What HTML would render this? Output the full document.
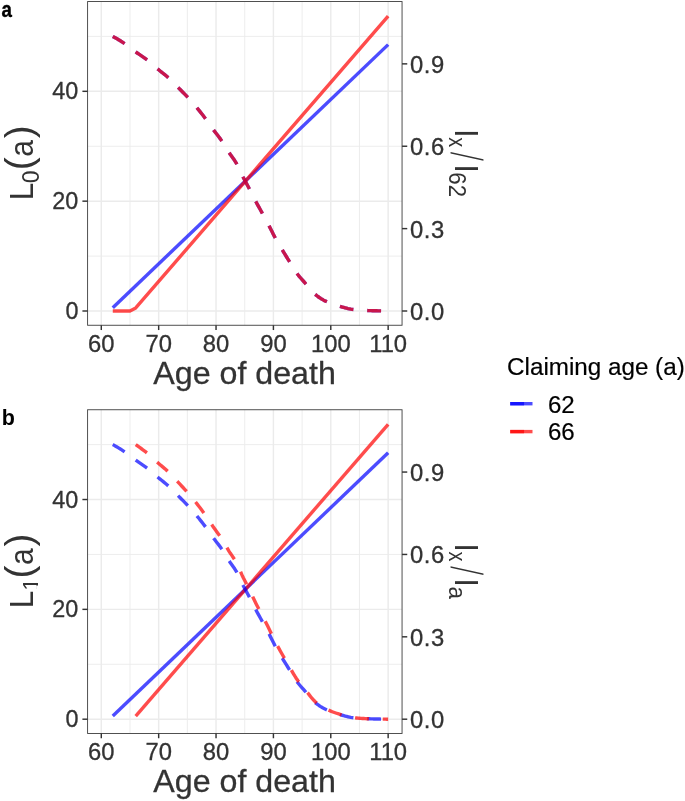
<!DOCTYPE html>
<html lang="en">
<head>
<meta charset="utf-8">
<title>Claiming age figure</title>
<style>
html,body{margin:0;padding:0;background:#fff;}
body{width:685px;height:801px;overflow:hidden;font-family:"Liberation Sans", sans-serif;}
svg{display:block;will-change:transform;}
svg text{stroke-linejoin:round;}
.t{stroke:#333333;stroke-width:0.3px;}
.k{stroke:#000;stroke-width:0.2px;}
</style>
</head>
<body>
<svg width="685" height="801" viewBox="0 0 685 801" font-family='"Liberation Sans", sans-serif'>
<rect width="685" height="801" fill="#fff"/>
<rect x="87.6" y="1.55" width="314.45" height="323.70" fill="#fff"/>
<line x1="129.98" x2="129.98" y1="1.55" y2="325.25" stroke="#ebebeb" stroke-width="0.9"/>
<line x1="187.35" x2="187.35" y1="1.55" y2="325.25" stroke="#ebebeb" stroke-width="0.9"/>
<line x1="244.72" x2="244.72" y1="1.55" y2="325.25" stroke="#ebebeb" stroke-width="0.9"/>
<line x1="302.09" x2="302.09" y1="1.55" y2="325.25" stroke="#ebebeb" stroke-width="0.9"/>
<line x1="359.46" x2="359.46" y1="1.55" y2="325.25" stroke="#ebebeb" stroke-width="0.9"/>
<line x1="87.6" x2="402.05" y1="256.08" y2="256.08" stroke="#ebebeb" stroke-width="0.9"/>
<line x1="87.6" x2="402.05" y1="146.24" y2="146.24" stroke="#ebebeb" stroke-width="0.9"/>
<line x1="87.6" x2="402.05" y1="36.40" y2="36.40" stroke="#ebebeb" stroke-width="0.9"/>
<line x1="101.30" x2="101.30" y1="1.55" y2="325.25" stroke="#ebebeb" stroke-width="1.45"/>
<line x1="158.67" x2="158.67" y1="1.55" y2="325.25" stroke="#ebebeb" stroke-width="1.45"/>
<line x1="216.04" x2="216.04" y1="1.55" y2="325.25" stroke="#ebebeb" stroke-width="1.45"/>
<line x1="273.41" x2="273.41" y1="1.55" y2="325.25" stroke="#ebebeb" stroke-width="1.45"/>
<line x1="330.78" x2="330.78" y1="1.55" y2="325.25" stroke="#ebebeb" stroke-width="1.45"/>
<line x1="388.15" x2="388.15" y1="1.55" y2="325.25" stroke="#ebebeb" stroke-width="1.45"/>
<line x1="87.6" x2="402.05" y1="311.00" y2="311.00" stroke="#ebebeb" stroke-width="1.45"/>
<line x1="87.6" x2="402.05" y1="201.16" y2="201.16" stroke="#ebebeb" stroke-width="1.45"/>
<line x1="87.6" x2="402.05" y1="91.32" y2="91.32" stroke="#ebebeb" stroke-width="1.45"/>
<path d="M112.77,307.70 L388.15,44.64" fill="none" stroke="#0000ff" stroke-opacity="0.7" stroke-width="3.4" stroke-linecap="butt" stroke-linejoin="round"/>
<path d="M112.77,311.00 L129.98,311.00 L135.72,307.98 L388.15,16.08" fill="none" stroke="#ff0000" stroke-opacity="0.7" stroke-width="3.4" stroke-linecap="butt" stroke-linejoin="round"/>
<path d="M112.77,36.40 L114.21,37.18 L115.64,37.98 L117.08,38.81 L118.51,39.67 L119.95,40.55 L121.38,41.46 L122.81,42.39 L124.25,43.35 L125.68,44.34 L127.12,45.38 L128.55,46.47 L129.98,47.59 L131.42,48.72 L132.85,49.84 L134.29,50.93 L135.72,51.98 L137.16,52.99 L138.59,53.97 L140.02,54.93 L141.46,55.89 L142.89,56.86 L144.33,57.85 L145.76,58.88 L147.20,59.96 L148.63,61.11 L150.06,62.31 L151.50,63.56 L152.93,64.82 L154.37,66.09 L155.80,67.36 L157.24,68.59 L158.67,69.79 L160.10,70.95 L161.54,72.09 L162.97,73.23 L164.41,74.38 L165.84,75.55 L167.28,76.78 L168.71,78.06 L170.14,79.41 L171.58,80.82 L173.01,82.26 L174.45,83.73 L175.88,85.21 L177.32,86.68 L178.75,88.13 L180.18,89.57 L181.62,91.01 L183.05,92.46 L184.49,93.92 L185.92,95.41 L187.35,96.93 L188.79,98.48 L190.22,100.06 L191.66,101.66 L193.09,103.29 L194.53,104.95 L195.96,106.63 L197.39,108.35 L198.83,110.09 L200.26,111.87 L201.70,113.69 L203.13,115.53 L204.57,117.41 L206.00,119.32 L207.43,121.31 L208.87,123.35 L210.30,125.41 L211.74,127.46 L213.17,129.45 L214.61,131.37 L216.04,133.23 L217.47,135.08 L218.91,136.95 L220.34,138.88 L221.78,140.92 L223.21,143.10 L224.65,145.40 L226.08,147.76 L227.51,150.11 L228.95,152.38 L230.38,154.50 L231.82,156.51 L233.25,158.50 L234.69,160.58 L236.12,162.86 L237.55,165.46 L238.99,168.44 L240.42,171.59 L241.86,174.69 L243.29,177.56 L244.72,180.25 L246.16,182.87 L247.59,185.49 L249.03,188.20 L250.46,191.00 L251.90,193.86 L253.33,196.71 L254.76,199.52 L256.20,202.23 L257.63,204.87 L259.07,207.45 L260.50,210.02 L261.94,212.61 L263.37,215.24 L264.80,217.86 L266.24,220.49 L267.67,223.16 L269.11,225.87 L270.54,228.69 L271.98,231.56 L273.41,234.41 L274.84,237.15 L276.28,239.75 L277.71,242.26 L279.15,244.70 L280.58,247.10 L282.02,249.49 L283.45,251.86 L284.88,254.20 L286.32,256.52 L287.75,258.82 L289.19,261.11 L290.62,263.44 L292.06,265.81 L293.49,268.17 L294.92,270.45 L296.36,272.58 L297.79,274.52 L299.23,276.32 L300.66,278.02 L302.09,279.66 L303.53,281.26 L304.96,282.88 L306.40,284.55 L307.83,286.29 L309.27,288.05 L310.70,289.79 L312.13,291.44 L313.57,292.96 L315.00,294.29 L316.44,295.43 L317.87,296.51 L319.31,297.51 L320.74,298.45 L322.17,299.33 L323.61,300.14 L325.04,300.89 L326.48,301.58 L327.91,302.23 L329.35,302.83 L330.78,303.40 L332.21,303.94 L333.65,304.44 L335.08,304.92 L336.52,305.38 L337.95,305.82 L339.39,306.23 L340.82,306.64 L342.25,307.05 L343.69,307.46 L345.12,307.85 L346.56,308.22 L347.99,308.57 L349.43,308.88 L350.86,309.16 L352.29,309.38 L353.73,309.55 L355.16,309.71 L356.60,309.85 L358.03,309.98 L359.46,310.10 L360.90,310.21 L362.33,310.30 L363.77,310.39 L365.20,310.46 L366.64,310.52 L368.07,310.58 L369.50,310.62 L370.94,310.67 L372.37,310.71 L373.81,310.75 L375.24,310.78 L376.68,310.81 L378.11,310.84 L379.54,310.87 L380.98,310.90 L382.41,310.92 L383.85,310.94 L385.28,310.96 L386.72,310.98 L388.15,311.00" fill="none" stroke="#0000ff" stroke-opacity="0.7" stroke-width="3.4" stroke-dasharray="13.86 13.86" stroke-linejoin="round"/>
<path d="M112.77,36.40 L114.21,37.18 L115.64,37.98 L117.08,38.81 L118.51,39.67 L119.95,40.55 L121.38,41.46 L122.81,42.39 L124.25,43.35 L125.68,44.34 L127.12,45.38 L128.55,46.47 L129.98,47.59 L131.42,48.72 L132.85,49.84 L134.29,50.93 L135.72,51.98 L137.16,52.99 L138.59,53.97 L140.02,54.93 L141.46,55.89 L142.89,56.86 L144.33,57.85 L145.76,58.88 L147.20,59.96 L148.63,61.11 L150.06,62.31 L151.50,63.56 L152.93,64.82 L154.37,66.09 L155.80,67.36 L157.24,68.59 L158.67,69.79 L160.10,70.95 L161.54,72.09 L162.97,73.23 L164.41,74.38 L165.84,75.55 L167.28,76.78 L168.71,78.06 L170.14,79.41 L171.58,80.82 L173.01,82.26 L174.45,83.73 L175.88,85.21 L177.32,86.68 L178.75,88.13 L180.18,89.57 L181.62,91.01 L183.05,92.46 L184.49,93.92 L185.92,95.41 L187.35,96.93 L188.79,98.48 L190.22,100.06 L191.66,101.66 L193.09,103.29 L194.53,104.95 L195.96,106.63 L197.39,108.35 L198.83,110.09 L200.26,111.87 L201.70,113.69 L203.13,115.53 L204.57,117.41 L206.00,119.32 L207.43,121.31 L208.87,123.35 L210.30,125.41 L211.74,127.46 L213.17,129.45 L214.61,131.37 L216.04,133.23 L217.47,135.08 L218.91,136.95 L220.34,138.88 L221.78,140.92 L223.21,143.10 L224.65,145.40 L226.08,147.76 L227.51,150.11 L228.95,152.38 L230.38,154.50 L231.82,156.51 L233.25,158.50 L234.69,160.58 L236.12,162.86 L237.55,165.46 L238.99,168.44 L240.42,171.59 L241.86,174.69 L243.29,177.56 L244.72,180.25 L246.16,182.87 L247.59,185.49 L249.03,188.20 L250.46,191.00 L251.90,193.86 L253.33,196.71 L254.76,199.52 L256.20,202.23 L257.63,204.87 L259.07,207.45 L260.50,210.02 L261.94,212.61 L263.37,215.24 L264.80,217.86 L266.24,220.49 L267.67,223.16 L269.11,225.87 L270.54,228.69 L271.98,231.56 L273.41,234.41 L274.84,237.15 L276.28,239.75 L277.71,242.26 L279.15,244.70 L280.58,247.10 L282.02,249.49 L283.45,251.86 L284.88,254.20 L286.32,256.52 L287.75,258.82 L289.19,261.11 L290.62,263.44 L292.06,265.81 L293.49,268.17 L294.92,270.45 L296.36,272.58 L297.79,274.52 L299.23,276.32 L300.66,278.02 L302.09,279.66 L303.53,281.26 L304.96,282.88 L306.40,284.55 L307.83,286.29 L309.27,288.05 L310.70,289.79 L312.13,291.44 L313.57,292.96 L315.00,294.29 L316.44,295.43 L317.87,296.51 L319.31,297.51 L320.74,298.45 L322.17,299.33 L323.61,300.14 L325.04,300.89 L326.48,301.58 L327.91,302.23 L329.35,302.83 L330.78,303.40 L332.21,303.94 L333.65,304.44 L335.08,304.92 L336.52,305.38 L337.95,305.82 L339.39,306.23 L340.82,306.64 L342.25,307.05 L343.69,307.46 L345.12,307.85 L346.56,308.22 L347.99,308.57 L349.43,308.88 L350.86,309.16 L352.29,309.38 L353.73,309.55 L355.16,309.71 L356.60,309.85 L358.03,309.98 L359.46,310.10 L360.90,310.21 L362.33,310.30 L363.77,310.39 L365.20,310.46 L366.64,310.52 L368.07,310.58 L369.50,310.62 L370.94,310.67 L372.37,310.71 L373.81,310.75 L375.24,310.78 L376.68,310.81 L378.11,310.84 L379.54,310.87 L380.98,310.90 L382.41,310.92 L383.85,310.94 L385.28,310.96 L386.72,310.98 L388.15,311.00" fill="none" stroke="#ff0000" stroke-opacity="0.7" stroke-width="3.4" stroke-dasharray="13.86 13.86" stroke-linejoin="round"/>
<rect x="87.6" y="1.55" width="314.45" height="323.70" fill="none" stroke="#3d3d3d" stroke-width="0.9"/>
<line x1="82.40" x2="87.6" y1="311.00" y2="311.00" stroke="#333333" stroke-width="1.45"/>
<text x="78.4" y="319.00" font-size="23.4" fill="#333333" class="t" text-anchor="end">0</text>
<line x1="82.40" x2="87.6" y1="201.16" y2="201.16" stroke="#333333" stroke-width="1.45"/>
<text x="78.4" y="209.16" font-size="23.4" fill="#333333" class="t" text-anchor="end">20</text>
<line x1="82.40" x2="87.6" y1="91.32" y2="91.32" stroke="#333333" stroke-width="1.45"/>
<text x="78.4" y="99.32" font-size="23.4" fill="#333333" class="t" text-anchor="end">40</text>
<line x1="402.05" x2="407.25" y1="311.00" y2="311.00" stroke="#333333" stroke-width="1.45"/>
<text x="410.0" y="319.90" font-size="23.8" letter-spacing="0.55" fill="#333333" class="t">0.0</text>
<line x1="402.05" x2="407.25" y1="228.62" y2="228.62" stroke="#333333" stroke-width="1.45"/>
<text x="410.0" y="237.52" font-size="23.8" letter-spacing="0.55" fill="#333333" class="t">0.3</text>
<line x1="402.05" x2="407.25" y1="146.24" y2="146.24" stroke="#333333" stroke-width="1.45"/>
<text x="410.0" y="155.14" font-size="23.8" letter-spacing="0.55" fill="#333333" class="t">0.6</text>
<line x1="402.05" x2="407.25" y1="63.86" y2="63.86" stroke="#333333" stroke-width="1.45"/>
<text x="410.0" y="72.76" font-size="23.8" letter-spacing="0.55" fill="#333333" class="t">0.9</text>
<line x1="101.30" x2="101.30" y1="325.25" y2="330.05" stroke="#333333" stroke-width="1.45"/>
<text x="101.30" y="351.95" font-size="23.8" fill="#333333" class="t" text-anchor="middle">60</text>
<line x1="158.67" x2="158.67" y1="325.25" y2="330.05" stroke="#333333" stroke-width="1.45"/>
<text x="158.67" y="351.95" font-size="23.8" fill="#333333" class="t" text-anchor="middle">70</text>
<line x1="216.04" x2="216.04" y1="325.25" y2="330.05" stroke="#333333" stroke-width="1.45"/>
<text x="216.04" y="351.95" font-size="23.8" fill="#333333" class="t" text-anchor="middle">80</text>
<line x1="273.41" x2="273.41" y1="325.25" y2="330.05" stroke="#333333" stroke-width="1.45"/>
<text x="273.41" y="351.95" font-size="23.8" fill="#333333" class="t" text-anchor="middle">90</text>
<line x1="330.78" x2="330.78" y1="325.25" y2="330.05" stroke="#333333" stroke-width="1.45"/>
<text x="330.78" y="351.95" font-size="23.8" fill="#333333" class="t" text-anchor="middle">100</text>
<line x1="388.15" x2="388.15" y1="325.25" y2="330.05" stroke="#333333" stroke-width="1.45"/>
<text x="388.15" y="351.95" font-size="23.8" fill="#333333" class="t" text-anchor="middle">110</text>
<text x="244.6" y="384.00" font-size="32.2" fill="#333333" class="t" text-anchor="middle">Age of death</text>
<text transform="translate(32.60,200.40) rotate(-90) scale(1.0,1.045)" font-size="32.2" fill="#333333">L</text>
<text transform="translate(38.70,183.30) rotate(-90)" font-size="23" fill="#333333">0</text>
<text transform="translate(32.40,170.30) rotate(-90)" font-size="38.7" fill="#333333">(</text>
<text transform="translate(32.50,156.80) rotate(-90) scale(0.93,1.035)" font-size="32.2" fill="#333333">a</text>
<text transform="translate(32.40,138.20) rotate(-90)" font-size="38.7" fill="#333333">)</text>
<text transform="translate(454.90,129.75) rotate(90)" font-size="32.2" fill="#333333">l</text>
<text transform="translate(448.90,137.35) rotate(90) scale(1,1.17)" font-size="20.0" fill="#333333">x</text>
<text transform="translate(450.85,152.10) rotate(90) skewX(-6.3) scale(0.581,1.399)" font-size="32" fill="#333333">/</text>
<text transform="translate(454.90,164.90) rotate(90)" font-size="32.2" fill="#333333">l</text>
<text transform="translate(449.10,172.30) rotate(90) scale(1,1.05)" font-size="22.3" fill="#333333">62</text>
<rect x="87.6" y="409.75" width="314.45" height="323.70" fill="#fff"/>
<line x1="129.98" x2="129.98" y1="409.75" y2="733.45" stroke="#ebebeb" stroke-width="0.9"/>
<line x1="187.35" x2="187.35" y1="409.75" y2="733.45" stroke="#ebebeb" stroke-width="0.9"/>
<line x1="244.72" x2="244.72" y1="409.75" y2="733.45" stroke="#ebebeb" stroke-width="0.9"/>
<line x1="302.09" x2="302.09" y1="409.75" y2="733.45" stroke="#ebebeb" stroke-width="0.9"/>
<line x1="359.46" x2="359.46" y1="409.75" y2="733.45" stroke="#ebebeb" stroke-width="0.9"/>
<line x1="87.6" x2="402.05" y1="664.28" y2="664.28" stroke="#ebebeb" stroke-width="0.9"/>
<line x1="87.6" x2="402.05" y1="554.44" y2="554.44" stroke="#ebebeb" stroke-width="0.9"/>
<line x1="87.6" x2="402.05" y1="444.60" y2="444.60" stroke="#ebebeb" stroke-width="0.9"/>
<line x1="101.30" x2="101.30" y1="409.75" y2="733.45" stroke="#ebebeb" stroke-width="1.45"/>
<line x1="158.67" x2="158.67" y1="409.75" y2="733.45" stroke="#ebebeb" stroke-width="1.45"/>
<line x1="216.04" x2="216.04" y1="409.75" y2="733.45" stroke="#ebebeb" stroke-width="1.45"/>
<line x1="273.41" x2="273.41" y1="409.75" y2="733.45" stroke="#ebebeb" stroke-width="1.45"/>
<line x1="330.78" x2="330.78" y1="409.75" y2="733.45" stroke="#ebebeb" stroke-width="1.45"/>
<line x1="388.15" x2="388.15" y1="409.75" y2="733.45" stroke="#ebebeb" stroke-width="1.45"/>
<line x1="87.6" x2="402.05" y1="719.20" y2="719.20" stroke="#ebebeb" stroke-width="1.45"/>
<line x1="87.6" x2="402.05" y1="609.36" y2="609.36" stroke="#ebebeb" stroke-width="1.45"/>
<line x1="87.6" x2="402.05" y1="499.52" y2="499.52" stroke="#ebebeb" stroke-width="1.45"/>
<path d="M112.77,715.90 L388.15,452.84" fill="none" stroke="#0000ff" stroke-opacity="0.7" stroke-width="3.4" stroke-linecap="butt" stroke-linejoin="round"/>
<path d="M135.72,716.18 L388.15,424.28" fill="none" stroke="#ff0000" stroke-opacity="0.7" stroke-width="3.4" stroke-linecap="butt" stroke-linejoin="round"/>
<path d="M112.77,444.60 L114.21,445.38 L115.64,446.18 L117.08,447.01 L118.51,447.87 L119.95,448.75 L121.38,449.66 L122.81,450.59 L124.25,451.55 L125.68,452.54 L127.12,453.58 L128.55,454.67 L129.98,455.79 L131.42,456.92 L132.85,458.04 L134.29,459.13 L135.72,460.18 L137.16,461.19 L138.59,462.17 L140.02,463.13 L141.46,464.09 L142.89,465.06 L144.33,466.05 L145.76,467.08 L147.20,468.16 L148.63,469.31 L150.06,470.51 L151.50,471.76 L152.93,473.02 L154.37,474.29 L155.80,475.56 L157.24,476.79 L158.67,477.99 L160.10,479.15 L161.54,480.29 L162.97,481.43 L164.41,482.58 L165.84,483.75 L167.28,484.98 L168.71,486.26 L170.14,487.61 L171.58,489.02 L173.01,490.46 L174.45,491.93 L175.88,493.41 L177.32,494.88 L178.75,496.33 L180.18,497.77 L181.62,499.21 L183.05,500.66 L184.49,502.12 L185.92,503.61 L187.35,505.13 L188.79,506.68 L190.22,508.26 L191.66,509.86 L193.09,511.49 L194.53,513.15 L195.96,514.83 L197.39,516.55 L198.83,518.29 L200.26,520.07 L201.70,521.89 L203.13,523.73 L204.57,525.61 L206.00,527.52 L207.43,529.51 L208.87,531.55 L210.30,533.61 L211.74,535.66 L213.17,537.65 L214.61,539.57 L216.04,541.43 L217.47,543.28 L218.91,545.15 L220.34,547.08 L221.78,549.12 L223.21,551.30 L224.65,553.60 L226.08,555.96 L227.51,558.31 L228.95,560.58 L230.38,562.70 L231.82,564.71 L233.25,566.70 L234.69,568.78 L236.12,571.06 L237.55,573.66 L238.99,576.64 L240.42,579.79 L241.86,582.89 L243.29,585.76 L244.72,588.45 L246.16,591.07 L247.59,593.69 L249.03,596.40 L250.46,599.20 L251.90,602.06 L253.33,604.91 L254.76,607.72 L256.20,610.43 L257.63,613.07 L259.07,615.65 L260.50,618.22 L261.94,620.81 L263.37,623.44 L264.80,626.06 L266.24,628.69 L267.67,631.36 L269.11,634.07 L270.54,636.89 L271.98,639.76 L273.41,642.61 L274.84,645.35 L276.28,647.95 L277.71,650.46 L279.15,652.90 L280.58,655.30 L282.02,657.69 L283.45,660.06 L284.88,662.40 L286.32,664.72 L287.75,667.02 L289.19,669.31 L290.62,671.64 L292.06,674.01 L293.49,676.37 L294.92,678.65 L296.36,680.78 L297.79,682.72 L299.23,684.52 L300.66,686.22 L302.09,687.86 L303.53,689.46 L304.96,691.08 L306.40,692.75 L307.83,694.49 L309.27,696.25 L310.70,697.99 L312.13,699.64 L313.57,701.16 L315.00,702.49 L316.44,703.63 L317.87,704.71 L319.31,705.71 L320.74,706.65 L322.17,707.53 L323.61,708.34 L325.04,709.09 L326.48,709.78 L327.91,710.43 L329.35,711.03 L330.78,711.60 L332.21,712.14 L333.65,712.64 L335.08,713.12 L336.52,713.58 L337.95,714.02 L339.39,714.43 L340.82,714.84 L342.25,715.25 L343.69,715.66 L345.12,716.05 L346.56,716.42 L347.99,716.77 L349.43,717.08 L350.86,717.36 L352.29,717.58 L353.73,717.75 L355.16,717.91 L356.60,718.05 L358.03,718.18 L359.46,718.30 L360.90,718.41 L362.33,718.50 L363.77,718.59 L365.20,718.66 L366.64,718.72 L368.07,718.78 L369.50,718.82 L370.94,718.87 L372.37,718.91 L373.81,718.95 L375.24,718.98 L376.68,719.01 L378.11,719.04 L379.54,719.07 L380.98,719.10 L382.41,719.12 L383.85,719.14 L385.28,719.16 L386.72,719.18 L388.15,719.20" fill="none" stroke="#0000ff" stroke-opacity="0.7" stroke-width="3.4" stroke-dasharray="13.86 13.86" stroke-linejoin="round"/>
<path d="M135.72,444.60 L137.16,445.67 L138.59,446.71 L140.02,447.72 L141.46,448.74 L142.89,449.77 L144.33,450.82 L145.76,451.91 L147.20,453.06 L148.63,454.28 L150.06,455.55 L151.50,456.87 L152.93,458.21 L154.37,459.56 L155.80,460.90 L157.24,462.21 L158.67,463.48 L160.10,464.71 L161.54,465.92 L162.97,467.12 L164.41,468.34 L165.84,469.59 L167.28,470.88 L168.71,472.24 L170.14,473.68 L171.58,475.17 L173.01,476.70 L174.45,478.26 L175.88,479.82 L177.32,481.38 L178.75,482.92 L180.18,484.44 L181.62,485.97 L183.05,487.51 L184.49,489.06 L185.92,490.64 L187.35,492.25 L188.79,493.89 L190.22,495.57 L191.66,497.27 L193.09,498.99 L194.53,500.75 L195.96,502.54 L197.39,504.36 L198.83,506.21 L200.26,508.09 L201.70,510.01 L203.13,511.97 L204.57,513.96 L206.00,515.99 L207.43,518.09 L208.87,520.26 L210.30,522.44 L211.74,524.61 L213.17,526.73 L214.61,528.76 L216.04,530.73 L217.47,532.69 L218.91,534.67 L220.34,536.72 L221.78,538.88 L223.21,541.20 L224.65,543.64 L226.08,546.14 L227.51,548.63 L228.95,551.04 L230.38,553.29 L231.82,555.41 L233.25,557.53 L234.69,559.73 L236.12,562.14 L237.55,564.90 L238.99,568.06 L240.42,571.40 L241.86,574.69 L243.29,577.73 L244.72,580.58 L246.16,583.36 L247.59,586.14 L249.03,589.01 L250.46,591.98 L251.90,595.01 L253.33,598.03 L254.76,601.01 L256.20,603.89 L257.63,606.68 L259.07,609.42 L260.50,612.15 L261.94,614.89 L263.37,617.67 L264.80,620.45 L266.24,623.25 L267.67,626.08 L269.11,628.95 L270.54,631.93 L271.98,634.98 L273.41,638.00 L274.84,640.91 L276.28,643.66 L277.71,646.32 L279.15,648.91 L280.58,651.46 L282.02,653.99 L283.45,656.50 L284.88,658.98 L286.32,661.44 L287.75,663.88 L289.19,666.31 L290.62,668.78 L292.06,671.29 L293.49,673.79 L294.92,676.21 L296.36,678.47 L297.79,680.53 L299.23,682.43 L300.66,684.23 L302.09,685.97 L303.53,687.68 L304.96,689.39 L306.40,691.16 L307.83,693.00 L309.27,694.87 L310.70,696.71 L312.13,698.47 L313.57,700.07 L315.00,701.48 L316.44,702.70 L317.87,703.84 L319.31,704.90 L320.74,705.90 L322.17,706.83 L323.61,707.69 L325.04,708.48 L326.48,709.22 L327.91,709.90 L329.35,710.54 L330.78,711.14 L332.21,711.71 L333.65,712.25 L335.08,712.76 L336.52,713.24 L337.95,713.70 L339.39,714.15 L340.82,714.58 L342.25,715.02 L343.69,715.44 L345.12,715.86 L346.56,716.26 L347.99,716.62 L349.43,716.96 L350.86,717.24 L352.29,717.48 L353.73,717.67 L355.16,717.83 L356.60,717.98 L358.03,718.12 L359.46,718.24 L360.90,718.36 L362.33,718.46 L363.77,718.55 L365.20,718.63 L366.64,718.69 L368.07,718.75 L369.50,718.80 L370.94,718.85 L372.37,718.89 L373.81,718.93 L375.24,718.97 L376.68,719.00 L378.11,719.03 L379.54,719.06 L380.98,719.09 L382.41,719.12 L383.85,719.14 L385.28,719.16 L386.72,719.18 L388.15,719.20" fill="none" stroke="#ff0000" stroke-opacity="0.7" stroke-width="3.4" stroke-dasharray="13.86 13.86" stroke-linejoin="round"/>
<rect x="87.6" y="409.75" width="314.45" height="323.70" fill="none" stroke="#3d3d3d" stroke-width="0.9"/>
<line x1="82.40" x2="87.6" y1="719.20" y2="719.20" stroke="#333333" stroke-width="1.45"/>
<text x="78.4" y="727.20" font-size="23.4" fill="#333333" class="t" text-anchor="end">0</text>
<line x1="82.40" x2="87.6" y1="609.36" y2="609.36" stroke="#333333" stroke-width="1.45"/>
<text x="78.4" y="617.36" font-size="23.4" fill="#333333" class="t" text-anchor="end">20</text>
<line x1="82.40" x2="87.6" y1="499.52" y2="499.52" stroke="#333333" stroke-width="1.45"/>
<text x="78.4" y="507.52" font-size="23.4" fill="#333333" class="t" text-anchor="end">40</text>
<line x1="402.05" x2="407.25" y1="719.20" y2="719.20" stroke="#333333" stroke-width="1.45"/>
<text x="410.0" y="728.10" font-size="23.8" letter-spacing="0.55" fill="#333333" class="t">0.0</text>
<line x1="402.05" x2="407.25" y1="636.82" y2="636.82" stroke="#333333" stroke-width="1.45"/>
<text x="410.0" y="645.72" font-size="23.8" letter-spacing="0.55" fill="#333333" class="t">0.3</text>
<line x1="402.05" x2="407.25" y1="554.44" y2="554.44" stroke="#333333" stroke-width="1.45"/>
<text x="410.0" y="563.34" font-size="23.8" letter-spacing="0.55" fill="#333333" class="t">0.6</text>
<line x1="402.05" x2="407.25" y1="472.06" y2="472.06" stroke="#333333" stroke-width="1.45"/>
<text x="410.0" y="480.96" font-size="23.8" letter-spacing="0.55" fill="#333333" class="t">0.9</text>
<line x1="101.30" x2="101.30" y1="733.45" y2="738.25" stroke="#333333" stroke-width="1.45"/>
<text x="101.30" y="760.15" font-size="23.8" fill="#333333" class="t" text-anchor="middle">60</text>
<line x1="158.67" x2="158.67" y1="733.45" y2="738.25" stroke="#333333" stroke-width="1.45"/>
<text x="158.67" y="760.15" font-size="23.8" fill="#333333" class="t" text-anchor="middle">70</text>
<line x1="216.04" x2="216.04" y1="733.45" y2="738.25" stroke="#333333" stroke-width="1.45"/>
<text x="216.04" y="760.15" font-size="23.8" fill="#333333" class="t" text-anchor="middle">80</text>
<line x1="273.41" x2="273.41" y1="733.45" y2="738.25" stroke="#333333" stroke-width="1.45"/>
<text x="273.41" y="760.15" font-size="23.8" fill="#333333" class="t" text-anchor="middle">90</text>
<line x1="330.78" x2="330.78" y1="733.45" y2="738.25" stroke="#333333" stroke-width="1.45"/>
<text x="330.78" y="760.15" font-size="23.8" fill="#333333" class="t" text-anchor="middle">100</text>
<line x1="388.15" x2="388.15" y1="733.45" y2="738.25" stroke="#333333" stroke-width="1.45"/>
<text x="388.15" y="760.15" font-size="23.8" fill="#333333" class="t" text-anchor="middle">110</text>
<text x="244.6" y="792.20" font-size="32.2" fill="#333333" class="t" text-anchor="middle">Age of death</text>
<text transform="translate(32.60,608.60) rotate(-90) scale(1.0,1.045)" font-size="32.2" fill="#333333">L</text>
<clipPath id="one"><rect x="0" y="-20" width="8.2" height="17.95"/><rect x="5.45" y="-2.15" width="2.45" height="2.35"/></clipPath>
<text transform="translate(38.2,590.85) rotate(-90)" font-size="22.5" fill="#333333" clip-path="url(#one)">1</text>
<text transform="translate(32.40,578.50) rotate(-90)" font-size="38.7" fill="#333333">(</text>
<text transform="translate(32.50,565.00) rotate(-90) scale(0.93,1.035)" font-size="32.2" fill="#333333">a</text>
<text transform="translate(32.40,546.40) rotate(-90)" font-size="38.7" fill="#333333">)</text>
<text transform="translate(454.90,543.95) rotate(90)" font-size="32.2" fill="#333333">l</text>
<text transform="translate(448.90,551.55) rotate(90) scale(1,1.17)" font-size="20.0" fill="#333333">x</text>
<text transform="translate(450.85,566.30) rotate(90) skewX(-6.3) scale(0.581,1.399)" font-size="32" fill="#333333">/</text>
<text transform="translate(454.90,579.10) rotate(90)" font-size="32.2" fill="#333333">l</text>
<text transform="translate(449.10,586.50) rotate(90) scale(1,1.05)" font-size="22.3" fill="#333333">a</text>
<text transform="translate(1.6,16.55) scale(0.85,1.03)" font-size="22" font-weight="bold" fill="#000" stroke="#000" stroke-width="0.4">a</text>
<text transform="translate(1.75,424.5) scale(0.976,1.02)" font-size="22" font-weight="bold" fill="#000">b</text>
<text x="507.1" y="374.7" font-size="24.8" textLength="177.6" lengthAdjust="spacingAndGlyphs" fill="#000" class="k">Claiming age (a)</text>
<line x1="510.2" x2="532.5" y1="403.7" y2="403.7" stroke="#0000ff" stroke-opacity="0.7" stroke-width="3.4"/>
<line x1="510.2" x2="532.5" y1="403.7" y2="403.7" stroke="#0000ff" stroke-opacity="0.7" stroke-width="3.4" stroke-dasharray="13.86 13.86"/>
<text transform="translate(547.9,412.55) scale(1.035,1)" font-size="23.3" fill="#000" class="k">62</text>
<line x1="510.2" x2="532.5" y1="431.6" y2="431.6" stroke="#ff0000" stroke-opacity="0.7" stroke-width="3.4"/>
<line x1="510.2" x2="532.5" y1="431.6" y2="431.6" stroke="#ff0000" stroke-opacity="0.7" stroke-width="3.4" stroke-dasharray="13.86 13.86"/>
<text transform="translate(547.9,440.45) scale(1.035,1)" font-size="23.3" fill="#000" class="k">66</text>
</svg>
</body>
</html>
